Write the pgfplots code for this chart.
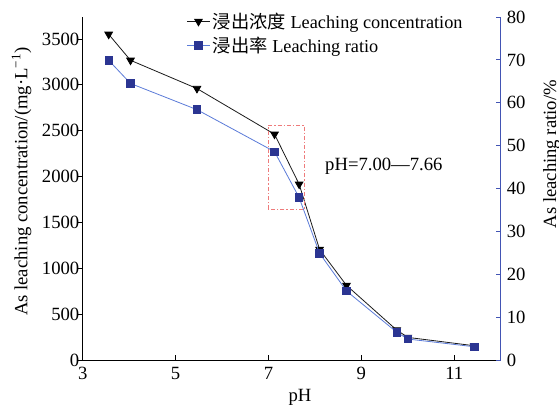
\documentclass[border=0pt]{standalone}
\usepackage{fontspec}
\setmainfont{Liberation Serif}
\newfontfamily\cjk{Noto Sans CJK SC}
\usepackage{pgfplots}
\pgfplotsset{compat=1.18}
\definecolor{concblack}{HTML}{1A1A1A}
\definecolor{sqblue}{HTML}{2B3592}
\definecolor{lnblue}{HTML}{5B7BD8}
\definecolor{axblue}{HTML}{4254B4}
\definecolor{boxred}{HTML}{EE7B7B}
\newcommand{\fs}{\fontsize{14}{16}\selectfont}

\begin{document}
\begin{tikzpicture}
\path[use as bounding box] (-62pt,-34.5pt) rectangle (357.2pt,270pt);
% concentration, left axis
\begin{axis}[
  scale only axis, width=313.5pt, height=257.25pt,
  xmin=3, xmax=12, ymin=0, ymax=3740,
  xtick={3,5,7,9,11}, ytick={0,500,...,3500},
  axis y line*=left, axis x line*=bottom,
  tick align=inside, major tick length=3.75pt,
  ytick style={xshift=-3.75pt},
  tick style={black, line width=0.6pt},
  axis line style={black, line width=0.6pt},
  /pgf/number format/assume math mode=true,
  /pgf/number format/1000 sep={},
  tick label style={font=\fs},
  xticklabel style={yshift=-2pt},
  yticklabel style={xshift=1pt},
  xlabel={pH}, ylabel={As leaching concentration/(mg·L\textsuperscript{−1})},
  x label style={at={(axis description cs:0.52,-0.11)}, anchor=center, font=\fs},
  y label style={at={(axis description cs:-0.146,0.52)}, anchor=center, font=\fs},
  legend style={at={(axis description cs:0.245,1.025)}, anchor=north west,
    draw=none, fill=none, font=\fontsize{13.7}{15}\selectfont, row sep=1pt,
    inner sep=1pt, cells={anchor=west}},
  legend image post style={line width=0.6pt},
]
\addplot[concblack, line width=0.6pt, mark=triangle*, mark size=3.3pt,
  mark options={rotate=180, fill=black, draw=black}]
  coordinates {(3.56,3551)(4.03,3268)(5.46,2960)(7.13,2462)(7.66,1917)
  (8.10,1206)(8.68,814)(9.76,327)(10.0,247)(11.43,156)};
\addlegendentry{{\cjk 浸出浓度} Leaching concentration}
\addlegendimage{lnblue, line width=0.6pt, mark=square*, mark size=2.8pt,
  mark options={fill=sqblue, draw=sqblue}}
\addlegendentry{{\cjk 浸出率} Leaching ratio}
\draw[boxred, line width=0.7pt, dash pattern=on 3pt off 1.5pt on 1pt off 1.5pt]
  (axis cs:7.0,1642) rectangle (axis cs:7.77,2560);
\node[anchor=west, font=\fs] at (axis cs:8.12,2113) {pH=7.00—7.66};
\end{axis}
% leaching ratio, right axis
\begin{axis}[
  scale only axis, width=313.5pt, height=257.25pt,
  xmin=3, xmax=12, ymin=0, ymax=80,
  ytick={0,10,...,80},
  axis y line*=right, axis x line=none,
  tick align=inside, major tick length=3.75pt,
  tick style={axblue, line width=0.6pt},
  axis line style={axblue, line width=0.8pt},
  /pgf/number format/assume math mode=true,
  tick label style={font=\fs},
  yticklabel style={xshift=1pt},
  ylabel={As leaching ratio/\%},
  y label style={at={(axis description cs:1.122,0.6)}, anchor=center, font=\fs},
]
\addplot[lnblue, line width=0.6pt, mark=square*, mark size=2.8pt,
  mark options={fill=sqblue, draw=sqblue}]
  coordinates {(3.56,69.9)(4.03,64.5)(5.46,58.4)(7.13,48.6)(7.66,37.9)
  (8.10,24.9)(8.68,16.1)(9.76,6.5)(10.0,4.9)(11.43,3.1)};
\end{axis}
\end{tikzpicture}
\end{document}
